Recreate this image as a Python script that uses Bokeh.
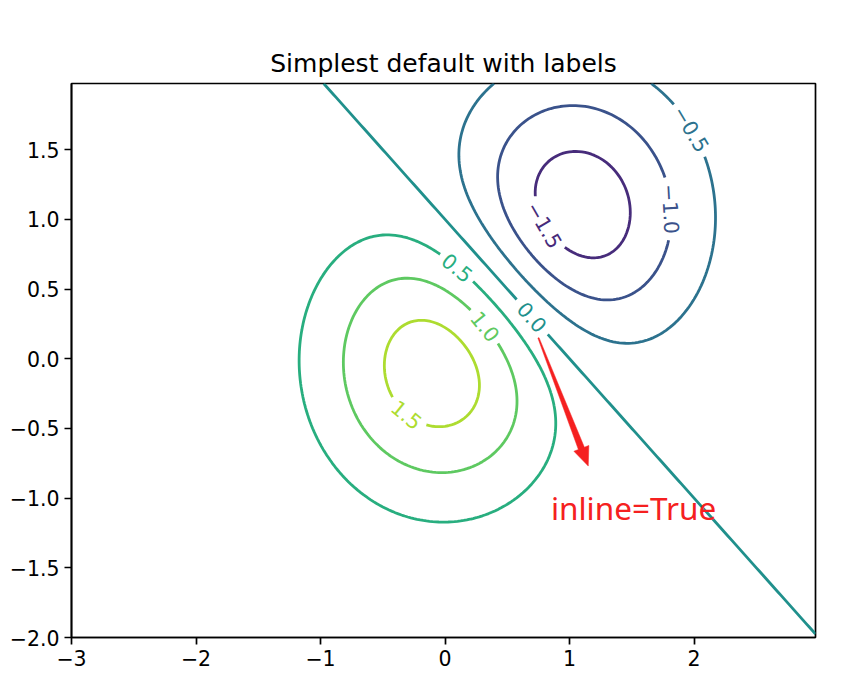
import numpy as np
import contourpy
from bokeh.plotting import figure
from bokeh.models import Range1d, FixedTicker, ColumnDataSource
from bokeh.core.properties import value
from bokeh.palettes import Viridis256
from bokeh.embed import file_html
from bokeh.resources import INLINE

# ---------------- data ----------------
delta = 0.025
x_start, x_stop = -3.0, 3.0
y_start, y_stop = -2.0, 2.0
bump1_center = (0.0, 0.0)
bump2_center = (1.0, 1.0)
amplitude = 2.0

levels = [-1.5, -1.0, -0.5, 0.0, 0.5, 1.0, 1.5]
color_levels_min, color_levels_max = -2.0, 2.0

# approximate label anchor positions (data coords), one per level
label_x = [0.83, 1.85, 1.99, 0.72, 0.10, 0.35, -0.30]
label_y = [0.98, 1.08, 1.66, 0.31, 0.67, 0.25, -0.39]

x_ticks = [-3, -2, -1, 0, 1, 2]
x_tick_labels = ["−3", "−2", "−1", "0", "1", "2"]
y_ticks = [-2.0, -1.5, -1.0, -0.5, 0.0, 0.5, 1.0, 1.5]
y_tick_labels = ["−2.0", "−1.5", "−1.0", "−0.5", "0.0", "0.5", "1.0", "1.5"]

title_text = "Simplest default with labels"
note_text = "inline=True"
note_x, note_y = 0.85, -1.065
arrow_start = (0.75, 0.15)
arrow_end = (1.15, -0.77)

# ---------------- grid ----------------
x = np.arange(x_start, x_stop, delta)
y = np.arange(y_start, y_stop, delta)
X, Y = np.meshgrid(x, y)
Z1 = np.exp(-(X - bump1_center[0]) ** 2 - (Y - bump1_center[1]) ** 2)
Z2 = np.exp(-(X - bump2_center[0]) ** 2 - (Y - bump2_center[1]) ** 2)
Z = (Z1 - Z2) * amplitude

# ---------------- layout ----------------
W, H = 850, 682
BL, BR, BT, BB = 71, 35, 83, 45
frame_w = W - BL - BR
frame_h = H - BT - BB
x0, x1 = x[0], x[-1]
y0, y1 = y[0], y[-1]
sx = frame_w / (x1 - x0)
sy = frame_h / (y1 - y0)

p = figure(width=W, height=H, output_backend="svg", toolbar_location=None,
           x_range=Range1d(x0, x1), y_range=Range1d(y0, y1),
           min_border_left=BL, min_border_right=BR,
           min_border_top=BT, min_border_bottom=BB,
           title=title_text)
p.title.align = "center"
p.title.text_font = "DejaVu Sans"
p.title.text_font_size = "25px"
p.title.text_font_style = "normal"
p.title.text_color = "black"
p.title.standoff = 11
p.xgrid.visible = False
p.ygrid.visible = False
p.outline_line_color = "black"
p.outline_line_width = 1.7
p.outline_line_alpha = 1.0
p.background_fill_color = "white"
p.border_fill_color = "white"

for ax, ticks, labs in ((p.xaxis[0], x_ticks, x_tick_labels), (p.yaxis[0], y_ticks, y_tick_labels)):
    ax.ticker = FixedTicker(ticks=ticks)
    ax.major_label_overrides = {t: l for t, l in zip(ticks, labs)}
    ax.axis_line_color = "black"
    ax.axis_line_width = 1.7
    ax.major_tick_line_color = "black"
    ax.major_tick_line_width = 1.7
    ax.major_tick_out = 7
    ax.major_tick_in = 0
    ax.minor_tick_line_color = None
    ax.major_label_text_font = "DejaVu Sans"
    ax.major_label_text_font_size = "20.5px"
    ax.major_label_text_color = "black"
    ax.major_label_standoff = 5

# ---------------- contours ----------------
gen = contourpy.contour_generator(x, y, Z)

char_w = {"0": 0.636, "1": 0.636, "2": 0.636, "3": 0.636, "4": 0.636, "5": 0.636,
          "6": 0.636, "7": 0.636, "8": 0.636, "9": 0.636, ".": 0.318, "−": 0.838}
label_font_px = 20.5


def to_px(pts):
    return np.column_stack(((pts[:, 0] - x0) * sx, (pts[:, 1] - y0) * sy))


def to_data(pp):
    return np.column_stack((pp[:, 0] / sx + x0, pp[:, 1] / sy + y0))


seg_xs, seg_ys, seg_col = [], [], []
lab_x, lab_y, lab_t, lab_a, lab_c = [], [], [], [], []

for lev, lx, ly in zip(levels, label_x, label_y):
    t = (lev - color_levels_min) / (color_levels_max - color_levels_min)
    col = Viridis256[min(255, int(t * 256))]
    txt = f"{lev:.1f}".replace("-", "−")
    half = sum(char_w[c] for c in txt) * label_font_px / 2 + 4

    pieces = gen.lines(lev)
    target = np.array([(lx - x0) * sx, (ly - y0) * sy])
    best = None
    for k, pc in enumerate(pieces):
        pp = to_px(pc)
        d = np.hypot(pp[:, 0] - target[0], pp[:, 1] - target[1])
        i = int(np.argmin(d))
        if best is None or d[i] < best[0]:
            best = (d[i], k, i)
    _, kbest, ibest = best

    for k, pc in enumerate(pieces):
        if k != kbest:
            seg_xs.append(pc[:, 0]); seg_ys.append(pc[:, 1]); seg_col.append(col)
            continue
        pp = to_px(pc)
        closed = np.allclose(pp[0], pp[-1])
        if closed:
            core = pp[:-1]
            core = np.vstack((core[ibest:], core[:ibest]))
            pp = np.vstack((core, core[:1]))
            ibest = 0
        seglen = np.hypot(np.diff(pp[:, 0]), np.diff(pp[:, 1]))
        s = np.concatenate(([0.0], np.cumsum(seglen)))
        s0 = s[ibest]
        if closed:
            total = s[-1]
            keep = (s > half) & (s < total - half)
            part = pp[keep]
            if len(part) > 1:
                dd = to_data(part)
                seg_xs.append(dd[:, 0]); seg_ys.append(dd[:, 1]); seg_col.append(col)
            pa = np.array([np.interp(total - half, s, pp[:, 0]), np.interp(total - half, s, pp[:, 1])])
            pb = np.array([np.interp(half, s, pp[:, 0]), np.interp(half, s, pp[:, 1])])
            c = pp[0]
        else:
            for mask in ((s < s0 - half), (s > s0 + half)):
                part = pp[mask]
                if len(part) > 1:
                    dd = to_data(part)
                    seg_xs.append(dd[:, 0]); seg_ys.append(dd[:, 1]); seg_col.append(col)
            pa = np.array([np.interp(s0 - half, s, pp[:, 0]), np.interp(s0 - half, s, pp[:, 1])])
            pb = np.array([np.interp(s0 + half, s, pp[:, 0]), np.interp(s0 + half, s, pp[:, 1])])
            c = np.array([np.interp(s0, s, pp[:, 0]), np.interp(s0, s, pp[:, 1])])
        ang = np.arctan2(pb[1] - pa[1], pb[0] - pa[0])
        if ang > np.pi / 2:
            ang -= np.pi
        elif ang < -np.pi / 2:
            ang += np.pi
        cd = to_data(c.reshape(1, 2))[0]
        lab_x.append(cd[0]); lab_y.append(cd[1]); lab_t.append(txt)
        lab_a.append(float(ang)); lab_c.append(col)

p.multi_line(xs=seg_xs, ys=seg_ys, line_color=seg_col, line_width=2.8)

src = ColumnDataSource(dict(x=lab_x, y=lab_y, text=lab_t, angle=lab_a, color=lab_c))
p.text(x="x", y="y", text="text", angle="angle", text_color="color", source=src,
       text_font=value("DejaVu Sans"), text_font_size=value(f"{label_font_px}px"),
       text_align="center", text_baseline="middle")

# ---------------- annotation ----------------
T = np.array([(arrow_start[0] - x0) * sx, (arrow_start[1] - y0) * sy])
Hh = np.array([(arrow_end[0] - x0) * sx, (arrow_end[1] - y0) * sy])
u = (Hh - T) / np.linalg.norm(Hh - T)
n = np.array([-u[1], u[0]])
N = Hh - u * 19
poly = np.array([T + n * 0.6, N + n * 3.2, N + n * 8, Hh, N - n * 8, N - n * 3.2, T - n * 0.6])
polyd = to_data(poly)
p.patch(x=polyd[:, 0], y=polyd[:, 1], fill_color="#f52020", line_color="#f52020", line_width=0.5)

p.text(x=[note_x], y=[note_y], text=[note_text], text_color="#f52020",
       text_font=value("Noto Sans"), text_font_size=value("31.5px"),
       text_align="left", text_baseline="alphabetic")

open("out.html", "w").write(file_html(p, INLINE))
